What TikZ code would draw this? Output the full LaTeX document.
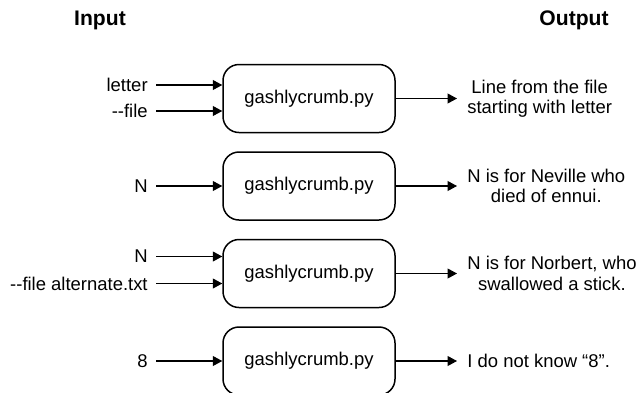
\documentclass[tikz,border=0pt]{standalone}
\usepackage{fontspec}
\setmainfont{Liberation Sans}
\usetikzlibrary{arrows.meta}

\tikzset{
  prog/.style={draw, line width=0.85pt, rounded corners=0.32cm,
    minimum width=3.44cm, minimum height=1.36cm},
  arg/.style={anchor=east, inner xsep=0.16cm},
  res/.style={anchor=west, align=center, inner xsep=0.2cm},
  flow/.style={line width=0.6pt, -{Triangle[length=0.19cm,width=0.2cm]}},
  head/.style={font=\fontsize{12}{14}\selectfont\bfseries}
}

\begin{document}
\begin{tikzpicture}[font=\fontsize{10.5}{11.5}\selectfont]
  \useasboundingbox (0,0) rectangle (12.74,7.84);
  % En-têtes
  \node[head] (input) at (2.0,7.44) {Input};
  \node[head] (output) at (11.48,7.44) {Output};
  % Programmes
  \node[prog] (p1) at (6.18,5.87) {gashlycrumb.py};
  \node[prog] (p2) at (6.18,4.12) {gashlycrumb.py};
  \node[prog] (p3) at (6.18,2.37) {gashlycrumb.py};
  \node[prog] (p4) at (6.18,0.62) {gashlycrumb.py};
  % Entrées
  \node[arg] (letter) at (3.12,6.14) {letter};
  \node[arg] (file) at (3.12,5.62) {-\kern0pt-file};
  \node[arg] (nA) at (3.12,4.12) {N};
  \node[arg] (nB) at (3.12,2.71) {N};
  \node[arg] (alt) at (3.12,2.17) {-\kern0pt-file alternate.txt};
  \node[arg] (eight) at (3.12,0.62) {8};
  % Sorties
  \node[res] (r1) at (9.14,5.87) {Line from the file\\starting with letter};
  \node[res] (r2) at (9.14,4.12) {N is for Neville who\\died of ennui.};
  \node[res] (r3) at (9.14,2.37) {N is for Norbert, who\\swallowed a stick.};
  \node[res] (r4) at (9.14,0.62) {I do not know “8”.};
  % Flèches
  \draw[flow] (letter.east) -- (letter -| p1.west);
  \draw[flow] (file.east) -- (file -| p1.west);
  \draw[flow] (nA.east) -- (p2.west);
  \draw[flow] (nB.east) -- (nB -| p3.west);
  \draw[flow] (alt.east) -- (alt -| p3.west);
  \draw[flow] (eight.east) -- (p4.west);
  \draw[flow] (p1.east) -- (r1.west);
  \draw[flow] (p2.east) -- (r2.west);
  \draw[flow] (p3.east) -- (r3.west);
  \draw[flow] (p4.east) -- (r4.west);
\end{tikzpicture}
\end{document}
